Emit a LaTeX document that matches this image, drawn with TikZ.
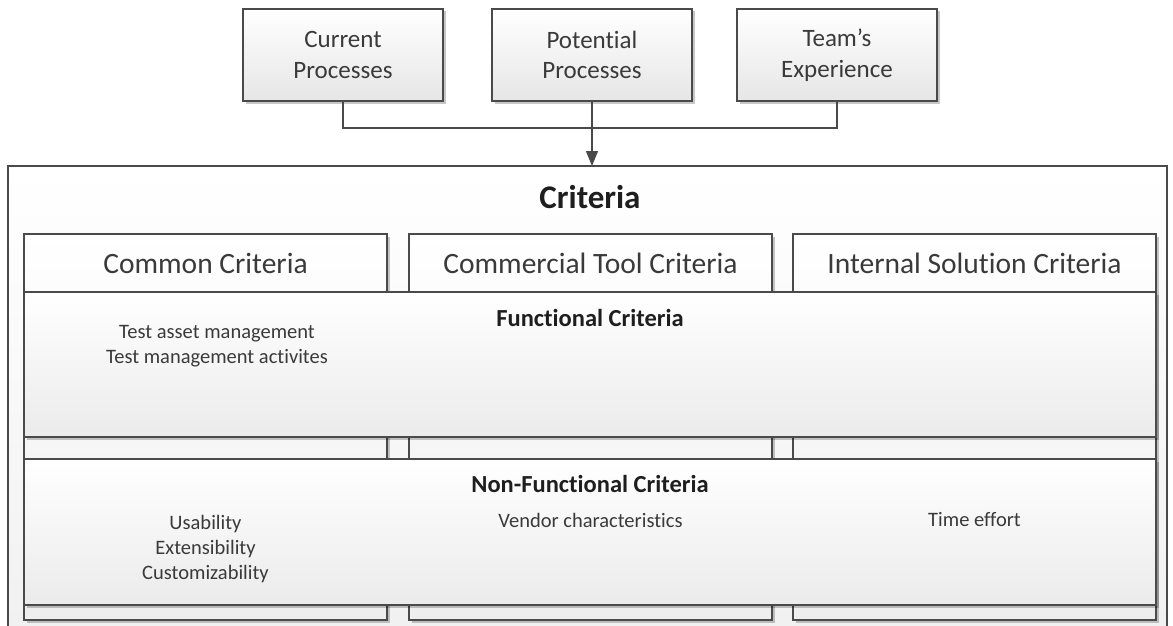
\documentclass[tikz,border=0pt]{standalone}
\usepackage{fontspec}
\setmainfont{Carlito}[RawFeature={-liga}]
\usetikzlibrary{arrows.meta,shadows}

\definecolor{edge}{HTML}{4A4A4A}
\definecolor{boxlow}{HTML}{E6E6E6}
\definecolor{bandlow}{HTML}{EBEBEB}
\definecolor{collow}{HTML}{EEEEEE}
\definecolor{outerlow}{HTML}{F0F0F0}
\definecolor{txt}{HTML}{3A3A3A}
\definecolor{titletxt}{HTML}{1E1E1E}

\begin{document}
\begin{tikzpicture}[x=1pt,y=-1pt,
  shade/.style={drop shadow={shadow xshift=2.5pt,shadow yshift=-2.5pt,opacity=0.22,fill=black}},
  box/.style={draw=edge,line width=1.3pt,inner sep=0pt,outer sep=0pt,align=center,text=txt},
  srcbox/.style={box,shade,top color=white,bottom color=boxlow,
    minimum width=200pt,minimum height=92pt,font=\fontsize{25}{30.5}\selectfont},
  outerbox/.style={box,top color=white,bottom color=outerlow},
  colbox/.style={box,shade,top color=white,bottom color=collow,
    minimum width=363pt,minimum height=386pt},
  band/.style={box,shade,top color=white,bottom color=bandlow,
    minimum width=1132pt,minimum height=146pt},
  header/.style={text=txt,inner sep=0pt,font=\fontsize{29.5}{36}\selectfont},
  bandtitle/.style={text=titletxt,inner sep=0pt,font=\fontsize{24.5}{30}\selectfont\bfseries},
  item/.style={text=txt,inner sep=0pt,align=center,font=\fontsize{20.5}{24.6}\selectfont},
  conn/.style={draw=edge,line width=1.3pt}
]
\clip (0,0) rectangle (1173,626);

% input boxes
\node[srcbox] (cur)  at (343,55) {Current\\Processes};
\node[srcbox] (pot)  at (592,55) {Potential\\Processes};
\node[srcbox] (team) at (837,55) {Team’s\\Experience};

% container
\node[outerbox,minimum width=1159pt,minimum height=494pt] (crit) at (587.5,413) {};
\node[inner sep=0pt,text=titletxt,font=\fontsize{33}{40}\selectfont\bfseries] (crittitle) at (590,197) {Criteria};

% columns
\node[colbox] (colA) at (205.5,427) {};
\node[colbox] (colB) at (590.5,427) {};
\node[colbox] (colC) at (974.5,427) {};
\node[header] (hA) at (205.5,263) {Common Criteria};
\node[header] (hB) at (590.5,263) {Commercial Tool Criteria};
\node[header] (hC) at (974.5,263) {Internal Solution Criteria};

% functional band
\node[band,minimum height=145pt] (func) at (590,364.5) {};
\node[bandtitle] (functitle) at (590,318) {Functional Criteria};
\node[item] (funcA) at (217,346) {Test asset management\\Test management activites};

% non-functional band
\node[band] (nonfunc) at (590,532) {};
\node[bandtitle] (nftitle) at (590,484) {Non-Functional Criteria};
\node[item] (nfA) at (205.5,549) {Usability\\Extensibility\\Customizability};
\node[item] (nfB) at (590.5,520) {Vendor characteristics};
\node[item] (nfC) at (974.5,520) {Time effort};

% connectors
\draw[conn] (cur.south) -- ++(0,27) -| (team.south);
\draw[conn,-{Triangle[length=15pt,width=12pt]}] (pot.south) -- (pot.south |- crit.north);
\end{tikzpicture}
\end{document}
